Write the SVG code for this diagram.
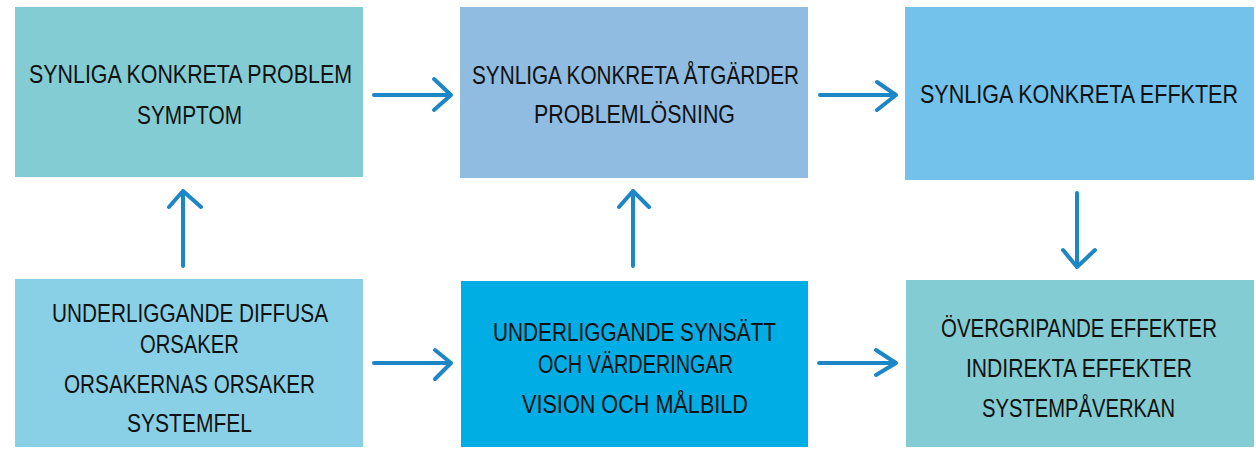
<svg xmlns="http://www.w3.org/2000/svg" width="1256" height="449" viewBox="0 0 1256 449">
<style>
.box{stroke:none}
.t{font-family:"Liberation Sans",Arial,sans-serif;font-size:25px;fill:#111;text-anchor:start}
.arr{fill:none;stroke:#1c86c6;stroke-width:4;stroke-linecap:round;stroke-linejoin:round}
</style>
<rect width="1256" height="449" fill="#ffffff"/>
<g id="connectors">
<path class="arr" d="M374 95 H451 M434 79 L451 95 L434 110"/>
<path class="arr" d="M820 95 H896 M877 82 L896 95 L877 110"/>
<path class="arr" d="M374 363 H451 M435 350 L451 363 L435 379"/>
<path class="arr" d="M819 363 H896 M876 350 L896 363 L876 375"/>
<path class="arr" d="M183 266 V191 M169 207 L183 191 L201 207"/>
<path class="arr" d="M633 266 V191 M619 207 L633 191 L649 207"/>
<path class="arr" d="M1077 193 V267 M1063 250 L1077 267 L1095 250"/>
</g>
<g id="n1">
<rect class="box" x="15" y="7" width="348" height="170" fill="#84ccd3"/>
<text class="t" transform="scale(0.85,1)" x="34.12" y="83" textLength="380" lengthAdjust="spacingAndGlyphs">SYNLIGA KONKRETA PROBLEM</text>
<text class="t" transform="scale(0.85,1)" x="161.18" y="124" textLength="123.53" lengthAdjust="spacingAndGlyphs">SYMPTOM</text>
</g>
<g id="n2">
<rect class="box" x="460" y="7" width="348" height="171" fill="#8fbce0"/>
<text class="t" transform="scale(0.85,1)" x="555.29" y="84" textLength="384.71" lengthAdjust="spacingAndGlyphs">SYNLIGA KONKRETA ÅTGÄRDER</text>
<text class="t" transform="scale(0.85,1)" x="628.24" y="123" textLength="236.47" lengthAdjust="spacingAndGlyphs">PROBLEMLÖSNING</text>
</g>
<g id="n3">
<rect class="box" x="905" y="7" width="349" height="173" fill="#72c2ec"/>
<text class="t" transform="scale(0.85,1)" x="1082.35" y="103" textLength="374.12" lengthAdjust="spacingAndGlyphs">SYNLIGA KONKRETA EFFKTER</text>
</g>
<g id="n4">
<rect class="box" x="15" y="279" width="348" height="168" fill="#89d0e6"/>
<text class="t" transform="scale(0.85,1)" x="61.18" y="322" textLength="324.71" lengthAdjust="spacingAndGlyphs">UNDERLIGGANDE DIFFUSA</text>
<text class="t" transform="scale(0.85,1)" x="164.71" y="353" textLength="116.47" lengthAdjust="spacingAndGlyphs">ORSAKER</text>
<text class="t" transform="scale(0.85,1)" x="75.29" y="393" textLength="295.29" lengthAdjust="spacingAndGlyphs">ORSAKERNAS ORSAKER</text>
<text class="t" transform="scale(0.85,1)" x="149.41" y="432" textLength="147.06" lengthAdjust="spacingAndGlyphs">SYSTEMFEL</text>
</g>
<g id="n5">
<rect class="box" x="461" y="281" width="347" height="166" fill="#00ade4"/>
<text class="t" transform="scale(0.85,1)" x="580" y="341" textLength="332.94" lengthAdjust="spacingAndGlyphs">UNDERLIGGANDE SYNSÄTT</text>
<text class="t" transform="scale(0.85,1)" x="632.94" y="373" textLength="229.41" lengthAdjust="spacingAndGlyphs">OCH VÄRDERINGAR</text>
<text class="t" transform="scale(0.85,1)" x="614.12" y="413" textLength="265.88" lengthAdjust="spacingAndGlyphs">VISION OCH MÅLBILD</text>
</g>
<g id="n6">
<rect class="box" x="906" y="280" width="348" height="167" fill="#84ccd3"/>
<text class="t" transform="scale(0.85,1)" x="1107.06" y="337" textLength="324.71" lengthAdjust="spacingAndGlyphs">ÖVERGRIPANDE EFFEKTER</text>
<text class="t" transform="scale(0.85,1)" x="1136.47" y="377" textLength="265.88" lengthAdjust="spacingAndGlyphs">INDIREKTA EFFEKTER</text>
<text class="t" transform="scale(0.85,1)" x="1155.29" y="417" textLength="227.06" lengthAdjust="spacingAndGlyphs">SYSTEMPÅVERKAN</text>
</g>
</svg>
